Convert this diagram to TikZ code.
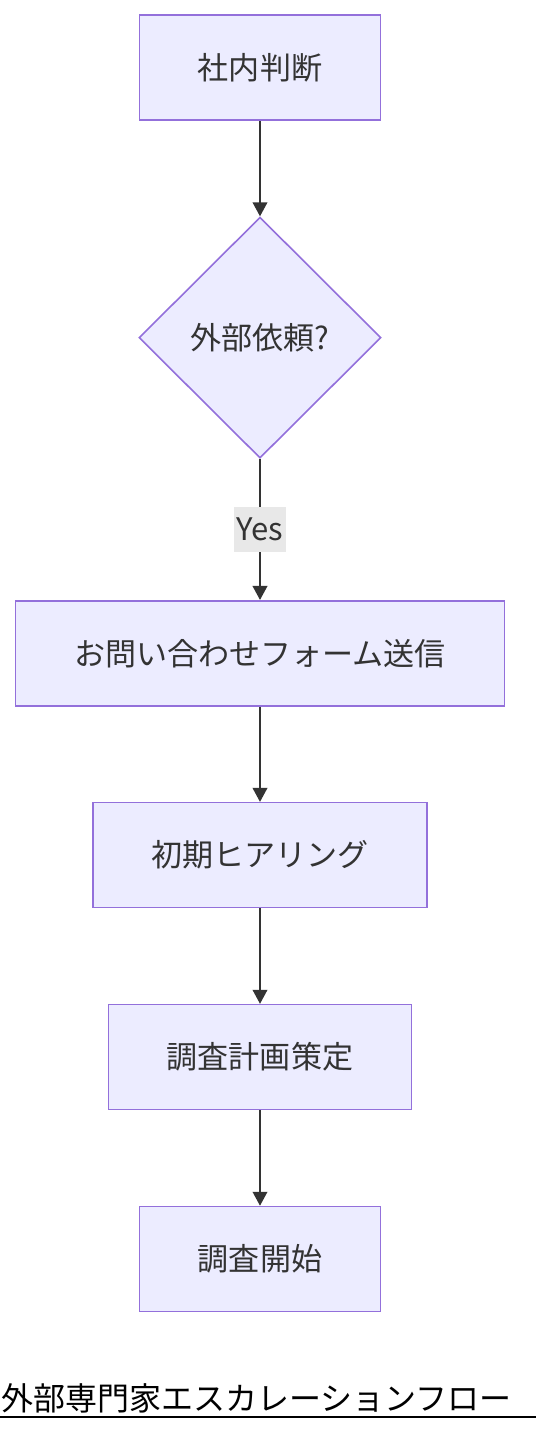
\documentclass[tikz,border=0pt]{standalone}
\usepackage{fontspec}
\setmainfont{Noto Sans CJK JP}
\usetikzlibrary{shapes.geometric, arrows.meta}

\definecolor{boxfill}{HTML}{ECECFF}
\definecolor{boxline}{HTML}{9370DB}
\definecolor{inkgray}{HTML}{333333}
\definecolor{tagfill}{HTML}{E8E8E8}

\begin{document}
\begin{tikzpicture} [
            auto,
            font=\fontsize{23.3}{27}\selectfont,
            decision/.style = { diamond, draw=boxline, line width=1.2pt, fill=boxfill,
                                text=inkgray, aspect=1, minimum width=181.5pt,
                                minimum height=180.75pt, inner sep=0pt },
            block/.style    = { rectangle, draw=boxline, line width=1.2pt,
                                fill=boxfill, text=inkgray, inner xsep=43.8pt,
                                minimum height=78.75pt },
            line/.style     = { draw=inkgray, line width=1.3pt,
                                -{Triangle[length=10.5pt, width=11pt]} },
            tag/.style      = { fill=tagfill, text=inkgray, inner sep=2pt,
                                minimum height=34pt },
          ]
          \useasboundingbox (0,0) rectangle (402pt,-1074pt);
          \matrix [anchor=north, inner sep=0pt, column sep=5mm, row sep=71.5pt] at (195pt,-10.6pt) {
            \node (judge) [block] {社内判断}; \\
            \node (ask) [decision] {外部依頼?}; \\[34.5pt]
            \node (form) [block] {お問い合わせフォーム送信}; \\
            \node (hear) [block] {初期ヒアリング}; \\
            \node (plan) [block] {調査計画策定}; \\
            \node (start) [block] {調査開始}; \\
          };

            \draw [line] (judge) -- (ask);
            \draw [line] (ask) -- node [tag, midway, anchor=center] {Yes} (form);
            \draw [line] (form) -- (hear);
            \draw [line] (hear) -- (plan);
            \draw [line] (plan) -- (start);

            % title with rule under it
            \node (title) [anchor=base west, inner sep=0pt, font=\fontsize{24}{28}\selectfont]
                  at (1pt,-1057.5pt) {外部専門家エスカレーションフロー};
            \draw [line width=1.2pt] (0,-1062.75pt) -- (402pt,-1062.75pt);
        \end{tikzpicture}
\end{document}
